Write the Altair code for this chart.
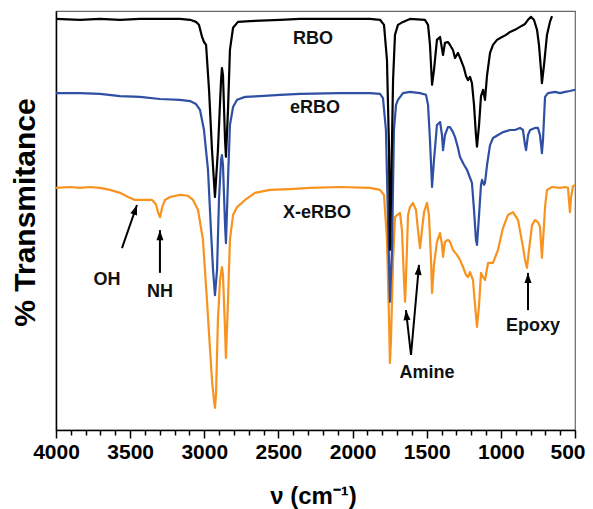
import altair as alt
import pandas as pd

# ---------------- data (wavenumber cm-1, transmittance with offsets) ----------------
rbo_wn = [4000, 3838, 3703, 3568, 3434, 3299, 3164, 3096, 3056, 3036, 3015, 3002, 2988, 2968, 2948,
          2928, 2908, 2887, 2881, 2874, 2860, 2854, 2840, 2827, 2806, 2773, 2692, 2489, 2355, 2085,
          1883, 1815, 1788, 1768, 1754, 1748, 1741, 1727, 1714, 1694, 1660, 1613, 1512, 1491, 1478,
          1464, 1451, 1431, 1410, 1390, 1377, 1357, 1343, 1323, 1309, 1289, 1269, 1249, 1235, 1222,
          1208, 1195, 1181, 1168, 1161, 1147, 1134, 1120, 1107, 1093, 1073, 1053, 1026, 992, 965,
          938, 905, 871, 837, 817, 797, 777, 756, 743, 729, 723, 709, 689, 669, 655]
rbo_t = [98.1, 97.9, 98.1, 97.9, 98.1, 98.1, 98.1, 97.9, 97.4, 96.7, 93.8, 92.6, 91.9, 81.2, 66.8,
         55.6, 66.8, 83.5, 86.4, 84.7, 69.2, 65.2, 76.4, 90.7, 96.0, 97.4, 97.6, 97.9, 98.1, 98.1,
         98.1, 97.9, 96.7, 88.3, 66.8, 43.0, 54.9, 83.5, 94.3, 96.7, 97.4, 98.1, 97.9, 96.7, 91.9,
         82.4, 85.9, 93.1, 93.8, 89.5, 92.4, 92.6, 91.9, 90.7, 88.8, 90.0, 88.3, 86.4, 84.5, 83.5,
         84.3, 82.8, 77.6, 70.4, 67.6, 72.8, 79.7, 81.2, 78.8, 84.7, 90.0, 91.9, 93.1, 93.8, 94.3,
         95.0, 95.5, 96.2, 96.9, 97.9, 98.6, 97.9, 95.5, 91.9, 85.9, 82.8, 87.1, 94.3, 97.4, 98.8]

erbo_wn = [4000, 3838, 3703, 3568, 3434, 3299, 3164, 3096, 3056, 3029, 3002, 2975, 2955, 2941, 2928,
           2914, 2901, 2887, 2881, 2874, 2860, 2854, 2840, 2827, 2806, 2779, 2725, 2624, 2489, 2355,
           2085, 1883, 1815, 1795, 1775, 1761, 1748, 1734, 1721, 1707, 1694, 1660, 1613, 1545, 1505,
           1491, 1478, 1464, 1451, 1431, 1410, 1397, 1390, 1377, 1357, 1343, 1323, 1309, 1289, 1276,
           1249, 1228, 1208, 1195, 1181, 1168, 1161, 1147, 1134, 1127, 1114, 1107, 1093, 1073, 1053,
           1019, 986, 938, 905, 871, 851, 837, 830, 817, 803, 770, 750, 736, 723, 716, 702, 682, 635,
           601, 567, 534, 500]
erbo_t = [80.4, 80.4, 80.2, 79.7, 79.5, 79.0, 78.8, 78.5, 77.8, 76.4, 71.6, 62.1, 47.7, 38.2, 32.2,
          38.2, 54.9, 64.4, 65.6, 63.3, 48.9, 44.6, 59.7, 72.8, 77.1, 78.8, 79.5, 79.7, 80.0, 80.2,
          80.4, 80.4, 80.2, 79.2, 71.6, 50.1, 30.6, 43.0, 71.6, 77.6, 78.8, 80.4, 80.7, 80.4, 80.0,
          77.6, 69.2, 58.0, 64.4, 72.8, 73.5, 70.4, 66.8, 70.4, 72.3, 72.3, 71.1, 69.9, 67.3, 65.2,
          63.3, 62.1, 60.2, 59.0, 52.5, 45.4, 44.2, 51.3, 58.5, 59.7, 58.5, 59.0, 63.3, 68.0, 69.7,
          70.4, 71.1, 71.6, 71.6, 72.1, 71.6, 68.0, 66.8, 70.4, 71.6, 72.1, 72.1, 70.4, 66.1, 69.2,
          79.5, 80.4, 80.7, 80.4, 80.7, 80.9, 81.2]

xerbo_wn = [4000, 3906, 3838, 3771, 3703, 3636, 3568, 3514, 3467, 3400, 3353, 3326, 3312, 3299, 3285,
            3265, 3231, 3164, 3110, 3076, 3042, 3009, 2982, 2961, 2948, 2935, 2928, 2921, 2908, 2894,
            2881, 2874, 2860, 2854, 2840, 2827, 2806, 2779, 2725, 2658, 2557, 2422, 2287, 2085, 1883,
            1815, 1788, 1768, 1754, 1748, 1741, 1727, 1714, 1700, 1680, 1667, 1653, 1646, 1640, 1626,
            1613, 1593, 1572, 1559, 1545, 1532, 1518, 1498, 1485, 1471, 1464, 1451, 1431, 1410, 1397,
            1390, 1377, 1357, 1343, 1323, 1296, 1276, 1255, 1235, 1222, 1208, 1188, 1174, 1161, 1147,
            1134, 1120, 1107, 1086, 1053, 1019, 986, 952, 918, 884, 851, 837, 824, 810, 790, 770, 750,
            736, 723, 709, 702, 689, 655, 601, 567, 547, 541, 534, 527, 514, 500]
xerbo_t = [57.8, 58.0, 57.8, 58.0, 57.8, 57.3, 56.6, 55.6, 54.9, 54.9, 54.9, 53.9, 52.0, 50.8, 53.0,
           54.9, 55.6, 56.1, 55.9, 54.9, 52.5, 45.4, 31.0, 19.1, 11.9, 7.2, 5.3, 8.4, 26.3, 35.8,
           38.9, 37.0, 23.9, 17.2, 31.0, 45.4, 51.3, 53.2, 54.9, 56.6, 57.3, 57.5, 57.8, 58.0, 57.8,
           57.3, 56.1, 45.4, 26.3, 16.0, 21.5, 40.6, 50.8, 51.3, 51.8, 47.7, 35.8, 30.6, 35.8, 51.3,
           53.2, 54.2, 52.5, 47.7, 43.4, 47.7, 52.0, 54.2, 51.3, 40.6, 32.7, 39.4, 44.9, 47.0, 44.2,
           41.3, 44.9, 45.4, 44.9, 43.0, 41.8, 40.6, 38.9, 37.0, 36.5, 37.7, 35.8, 29.8, 24.6, 29.8,
           37.5, 36.5, 35.8, 39.9, 39.9, 43.0, 48.2, 51.3, 52.0, 50.1, 43.7, 40.6, 38.7, 43.0, 48.9, 50.1, 49.6,
           48.5, 41.1, 48.9, 53.2, 57.3, 58.0, 57.8, 58.0, 57.8, 54.9, 52.0, 55.4, 58.2, 58.5]

label_text = ["RBO", "eRBO", "X-eRBO", "OH", "NH", "Amine", "Epoxy"]
label_wn = [2267, 2253, 2240, 3656, 3299, 1498, 783]
label_t = [93.3, 76.8, 51.8, 35.8, 32.9, 13.6, 24.8]

arrow_wn_tail = [3555, 3299, 1606, 1606, 817]
arrow_t_tail = [43.4, 37.5, 17.9, 17.9, 28.6]
arrow_wn_head = [3454, 3299, 1640, 1552, 817]
arrow_t_head = [53.7, 47.7, 28.6, 39.4, 37.5]
arrow_angle = [19, 0, 354, 5, 0]

series_names = ["X-eRBO", "eRBO", "RBO"]
series_colors = ["#F7931E", "#2E4FA3", "#000000"]

# ---------------- tables ----------------
spectra = {
    "RBO": pd.DataFrame({"wn": rbo_wn, "T": rbo_t}),
    "eRBO": pd.DataFrame({"wn": erbo_wn, "T": erbo_t}),
    "X-eRBO": pd.DataFrame({"wn": xerbo_wn, "T": xerbo_t}),
}
labels = pd.DataFrame({"wn": label_wn, "T": label_t, "text": label_text})
arrows = pd.DataFrame({"wn": arrow_wn_tail, "T": arrow_t_tail,
                       "wn2": arrow_wn_head, "T2": arrow_t_head})
heads = pd.DataFrame({"wn": arrow_wn_head, "T": arrow_t_head, "angle": arrow_angle})

FONT = "Liberation Sans"

x_enc = alt.X(
    "wn:Q",
    scale=alt.Scale(domain=[500, 4000], reverse=True, nice=False, zero=False),
    axis=alt.Axis(
        values=list(range(500, 4001, 100)),
        format="d",
        labelExpr="datum.value % 500 === 0 ? datum.label : ''",
        labelOverlap=False,
        labelFlush=False,
        labelAlign={"condition": {"test": "datum.value === 500", "value": "right"}, "value": "center"},
        labelOffset={"condition": {"test": "datum.value === 500", "value": 10}, "value": 0},
        labelFont=FONT, labelFontSize=21, labelFontWeight="bold", labelColor="#000",
        labelPadding=3,
        tickSize={"condition": {"test": "datum.value % 500 === 0", "value": 8}, "value": 5},
        tickColor="#000", tickWidth=1.5,
        domainColor="#000", domainWidth=1.5,
        grid=False,
        title="ν (cm⁻¹)",
        titleFont=FONT, titleFontSize=24, titleFontWeight="bold", titleColor="#000",
        titleX=257, titleY=73, titleBaseline="alphabetic", titleAlign="center",
    ),
)
y_enc = alt.Y(
    "T:Q",
    scale=alt.Scale(domain=[0, 100], nice=False, zero=False),
    axis=alt.Axis(
        ticks=False, labels=False, grid=False,
        domainColor="#000", domainWidth=1.5,
        title="% Transmitance",
        titleFont=FONT, titleFontSize=30, titleFontWeight="bold", titleColor="#000",
        titleAngle=270, titleX=-31, titleY=201, titleBaseline="middle", titleAlign="center",
    ),
)

layers = []
for name, color in zip(series_names, series_colors):
    layers.append(
        alt.Chart(spectra[name]).mark_line(color=color, strokeWidth=2.2, strokeJoin="round")
        .encode(x=x_enc, y=y_enc, order="wn:Q")
    )

arrow_lines = alt.Chart(arrows).mark_rule(color="#000", strokeWidth=2).encode(
    x=x_enc, y=y_enc, x2="wn2:Q", y2="T2:Q")
arrow_heads = alt.Chart(heads).mark_point(
    shape="M0,0L1.4,4L-1.4,4Z", filled=True, color="#000", opacity=1, size=25
).encode(x=x_enc, y=y_enc, angle=alt.Angle("angle:Q", scale=None))
text_layer = alt.Chart(labels).mark_text(
    font=FONT, fontSize=18, fontWeight="bold", color="#111", align="center", baseline="middle"
).encode(x=x_enc, y=y_enc, text="text:N")

chart = alt.layer(*layers, arrow_lines, arrow_heads, text_layer).properties(
    width=519, height=419,
    autosize="none",
    padding={"left": 48, "top": 3, "right": 10, "bottom": 82},
).configure_view(stroke="#666", strokeWidth=1.2)

chart.save("out.html", embed_options={"renderer": "svg", "actions": False})
